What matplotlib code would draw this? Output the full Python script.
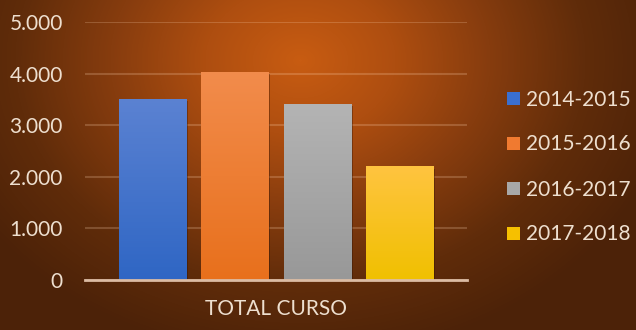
import numpy as np
import matplotlib
matplotlib.use("Agg")
import matplotlib.pyplot as plt
from matplotlib.colors import LinearSegmentedColormap
from matplotlib.patches import Patch
import matplotlib.patheffects as pe

plt.rcParams['font.family'] = ['Lato', 'DejaVu Sans']

categories = ["TOTAL CURSO"]
series = ["2014-2015", "2015-2016", "2016-2017", "2017-2018"]
values = [3500, 4040, 3420, 2200]
yticks = [0, 1000, 2000, 3000, 4000, 5000]
ytick_labels = ["0", "1.000", "2.000", "3.000", "4.000", "5.000"]

top_colors = ["#5b82d2", "#f28c4c", "#b4b4b4", "#ffc440"]
bottom_colors = ["#2f66c4", "#e8701c", "#989898", "#f0c000"]
legend_colors = ["#3a6fd0", "#f07a30", "#a8a8a8", "#f6c000"]
text_color = "#eedfcf"

W, H = 636, 330
fig = plt.figure(figsize=(W / 100, H / 100), dpi=100)

# background radial gradient
bg = fig.add_axes([0, 0, 1, 1])
bg.axis("off")
yy, xx = np.mgrid[0:H, 0:W]
cx, cy = 300, 60
d = np.sqrt(((xx - cx) / 380.0) ** 2 + ((yy - cy) / 300.0) ** 2)
d = np.clip(d, 0, 1)
bg_cmap = LinearSegmentedColormap.from_list(
    "bg", ["#c85c12", "#ae4e10", "#863c0e", "#602c0a", "#4c2208"])
bg.imshow(d, cmap=bg_cmap, extent=[0, 1, 0, 1], aspect="auto",
          origin="upper", vmin=0, vmax=1)
bg.set_xlim(0, 1)
bg.set_ylim(0, 1)

ax = fig.add_axes([85 / W, 50 / H, 382 / W, 258 / H])
ax.patch.set_alpha(0)

bw = 0.176
step = 0.216
x = np.array([0.0])
grad = np.linspace(0, 1, 256).reshape(-1, 1)
for i, (s, v) in enumerate(zip(series, values)):
    xi = x + (i - 1.5) * step
    bars = ax.bar(xi, [v], width=bw, color=legend_colors[i], zorder=3,
                  path_effects=[pe.SimplePatchShadow(offset=(1.5, -1.5),
                                                     shadow_rgbFace="#2a1004",
                                                     alpha=0.35),
                                pe.Normal()])
    cm = LinearSegmentedColormap.from_list("b%d" % i,
                                           [bottom_colors[i], top_colors[i]])
    for b in bars:
        x0, y0 = b.get_x(), b.get_y()
        im = ax.imshow(grad, cmap=cm, origin="lower", aspect="auto",
                       extent=[x0, x0 + b.get_width(), y0, y0 + b.get_height()],
                       zorder=4)
        im.set_clip_path(b)

ax.set_xlim(-0.5, 0.5)
ax.set_ylim(0, 5000)

ax.set_yticks(yticks, ytick_labels)
ax.set_xticks([0], categories)
ax.tick_params(axis="both", length=0, colors=text_color, labelsize=15)
ax.tick_params(axis="y", pad=16)
ax.tick_params(axis="x", pad=14)
for sp in ["left", "right", "top"]:
    ax.spines[sp].set_visible(False)
ax.spines["bottom"].set_color("#dcbca4")
ax.spines["bottom"].set_linewidth(2)
ax.spines["bottom"].set_zorder(5)
ax.yaxis.grid(True, color="#ffd8b8", alpha=0.22, linewidth=1.5, zorder=1)
ax.set_axisbelow(True)

handles = [Patch(facecolor=c, edgecolor="none") for c in legend_colors]
leg = fig.legend(handles, series, loc="center left",
                 bbox_to_anchor=(507 / W, 1 - 167 / H),
                 frameon=False, fontsize=15, handlelength=0.6,
                 handleheight=0.6, handletextpad=0.3, labelspacing=1.2,
                 borderpad=0, borderaxespad=0)
for t in leg.get_texts():
    t.set_color(text_color)

fig.savefig("out.png", dpi=100)
